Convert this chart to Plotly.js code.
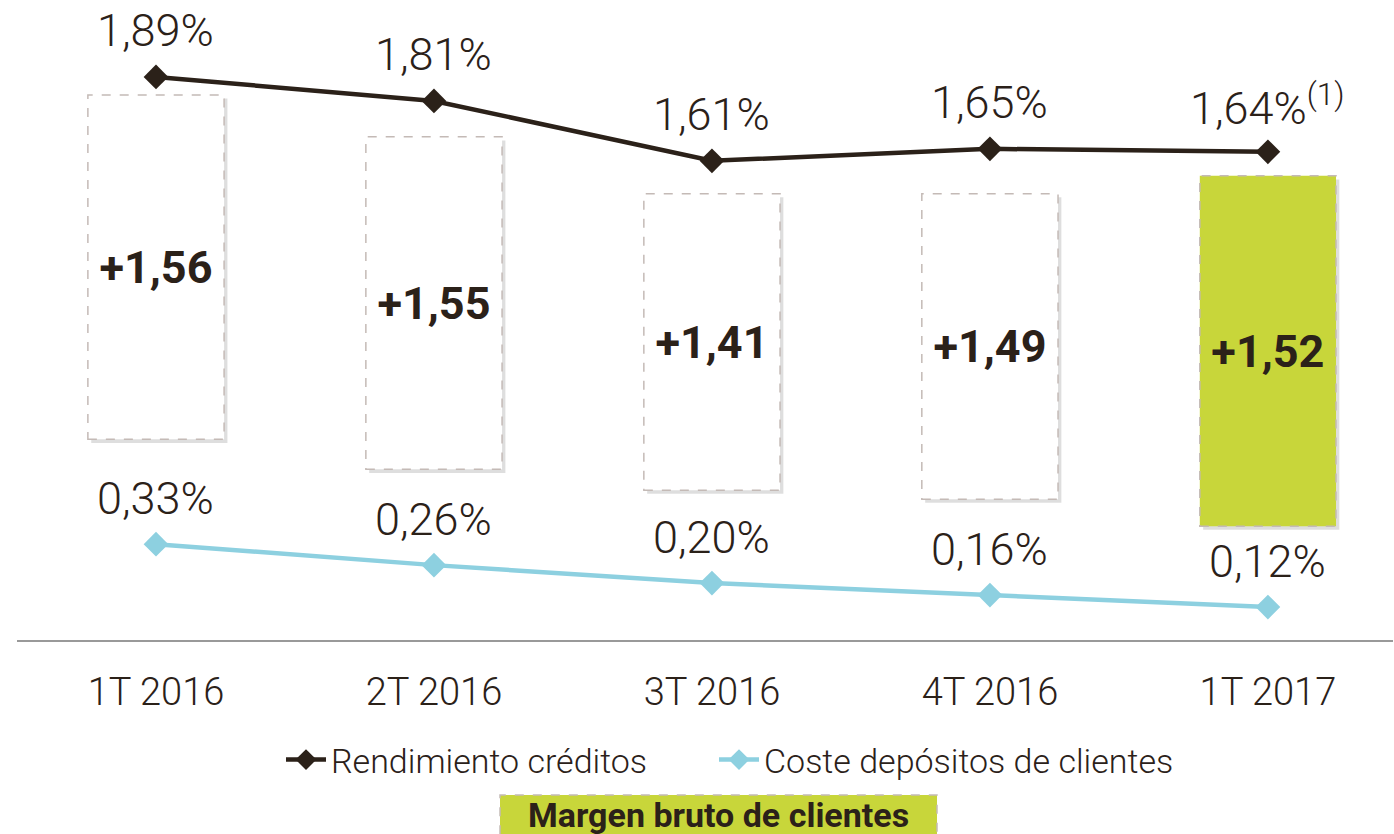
<!DOCTYPE html>
<html>
<head>
<meta charset="utf-8">
<script src="https://cdn.plot.ly/plotly-3.0.1.min.js"></script>
<style>html,body{margin:0;padding:0;background:#fff;}#chart{width:1394px;height:834px;}</style>
</head>
<body>
<div id="chart"></div>
<script>
const categories = ["1T 2016", "2T 2016", "3T 2016", "4T 2016", "1T 2017"];
const rendimiento = [1.89, 1.81, 1.61, 1.65, 1.64];
const coste = [0.33, 0.26, 0.20, 0.16, 0.12];
const margen = [1.56, 1.55, 1.41, 1.49, 1.52];
const barTop = [1.83, 1.69, 1.50, 1.50, 1.56];
const barBottom = [0.68, 0.58, 0.51, 0.48, 0.39];
const rendLabelNotes = ["", "", "", "", "<sup>(1)</sup>"];

const DARK = "#2b2119";
const BLUE = "#8dd0e0";
const GREEN = "#c8d63a";
const FONT = "Roboto";
const fmt = (v, d) => v.toFixed(d).replace(".", ",");

const barW = 0.49;
const idx = categories.map((c, i) => i);

const traces = [];
traces.push({
  type: "bar", x: idx, y: barTop.map((t, i) => t - barBottom[i]),
  base: barBottom.map(b => b - 0.012), width: barW, offset: -barW / 2 + 0.012,
  marker: {color: "rgba(0,0,0,0.13)"}, hoverinfo: "skip", showlegend: false
});
traces.push({
  type: "bar", x: idx, y: barTop.map((t, i) => t - barBottom[i]),
  base: barBottom, width: barW,
  marker: {color: categories.map((c, i) => i === categories.length - 1 ? GREEN : "#ffffff"), line: {width: 0}},
  text: margen.map(v => "+" + fmt(v, 2)), textposition: "inside", insidetextanchor: "middle",
  textfont: {family: FONT, size: 45, color: DARK, weight: 700}, textangle: 0,
  hoverinfo: "skip", showlegend: false
});
traces.push({
  type: "scatter", mode: "lines+markers", x: idx, y: rendimiento, name: "Rendimiento créditos",
  line: {color: DARK, width: 4.5}, marker: {symbol: "diamond", size: 19, color: DARK}, cliponaxis: false,
  legend: "legend"
});
traces.push({
  type: "scatter", mode: "lines+markers", x: idx, y: coste, name: "Coste depósitos de clientes",
  line: {color: BLUE, width: 4.5}, marker: {symbol: "diamond", size: 19, color: BLUE}, cliponaxis: false,
  legend: "legend2"
});

const shapes = idx.map(i => ({
  type: "rect", xref: "x", yref: "y", x0: i - barW / 2, x1: i + barW / 2, y0: barBottom[i], y1: barTop[i],
  line: {color: "#c4bab6", width: 1.5, dash: "dash"}, fillcolor: "rgba(0,0,0,0)", layer: "above"
}));
shapes.push({type: "rect", xref: "paper", yref: "paper", x0: (500 - 17) / 1376, x1: (937 - 17) / 1376,
  y0: -0.32, y1: (640 - 795) / 640, fillcolor: GREEN, line: {color: "#c4bab6", width: 1.5, dash: "dash"}});

const annotations = [];
idx.forEach(i => {
  annotations.push({x: i, y: rendimiento[i], xref: "x", yref: "y", text: fmt(rendimiento[i], 2) + "%" + rendLabelNotes[i],
    showarrow: false, yshift: 46, font: {family: FONT, size: 45, color: DARK, weight: 300}});
  annotations.push({x: i, y: coste[i], xref: "x", yref: "y", text: fmt(coste[i], 2) + "%",
    showarrow: false, yshift: 46, font: {family: FONT, size: 45, color: DARK, weight: 300}});
});
annotations.push({xref: "paper", yref: "paper", x: (718 - 17) / 1376, y: (640 - 815) / 640, yanchor: "middle",
  text: "<b>Margen bruto de clientes</b>", showarrow: false, font: {family: FONT, size: 34, color: DARK}});

const legendFont = {family: FONT, size: 34, color: DARK, weight: 300};
const layout = {
  width: 1394, height: 834,
  margin: {l: 17, r: 1, t: 0, b: 194},
  paper_bgcolor: "#fff", plot_bgcolor: "#fff",
  barmode: "overlay",
  xaxis: {range: [-0.5, 4.45], tickvals: idx, ticktext: categories, showgrid: false, zeroline: false,
    showline: true, linecolor: "#999", linewidth: 2, ticks: "", ticklabelstandoff: 17,
    tickfont: {family: FONT, size: 38, color: DARK, weight: 300}, fixedrange: true},
  yaxis: {range: [0.01, 2.147], visible: false, showgrid: false, zeroline: false, fixedrange: true},
  showlegend: true,
  legend: {orientation: "h", x: (281 - 17) / 1376, xanchor: "left", y: -0.1875, yanchor: "middle",
    font: legendFont, itemwidth: 40, bgcolor: "rgba(0,0,0,0)"},
  legend2: {orientation: "h", x: (714 - 17) / 1376, xanchor: "left", y: -0.1875, yanchor: "middle",
    font: legendFont, itemwidth: 40, bgcolor: "rgba(0,0,0,0)"},
  shapes: shapes, annotations: annotations
};
Plotly.newPlot("chart", traces, layout, {displayModeBar: false, staticPlot: true});
</script>
</body>
</html>
